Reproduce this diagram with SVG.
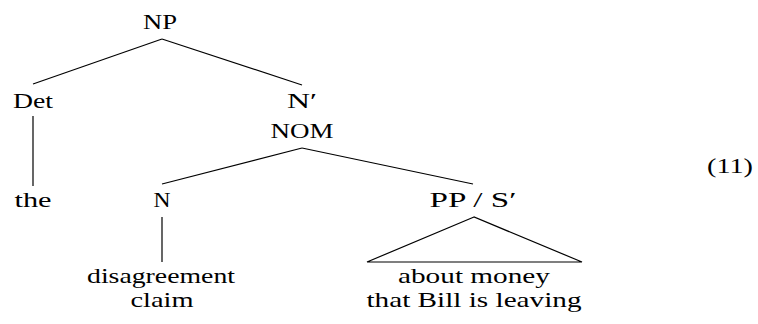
<svg xmlns="http://www.w3.org/2000/svg" width="758" height="324" viewBox="0 0 758 324">
  <style>
    text { font-family: "Liberation Serif", "Times New Roman", serif; font-size: 22px; fill: #000; text-anchor: middle; }
    .edge { stroke: #000; stroke-width: 1.2; fill: none; }
  </style>
  <rect width="758" height="324" fill="#fff"/>
  <!-- tree branches and the triangle over the unanalysed phrase -->
  <g id="connectors">
    <line class="edge" x1="162" y1="39" x2="33" y2="84"/>
    <line class="edge" x1="162" y1="39" x2="302" y2="85"/>
    <line class="edge" x1="33" y1="116" x2="33" y2="186"/>
    <line class="edge" x1="302" y1="148" x2="162" y2="184"/>
    <line class="edge" x1="302" y1="148" x2="473" y2="184"/>
    <line class="edge" x1="162" y1="217" x2="162" y2="262"/>
    <polygon class="edge" points="474,217 367,262 582,262"/>
  </g>
  <g id="np"><text x="160" y="29" textLength="34" lengthAdjust="spacingAndGlyphs">NP</text></g>
  <g id="det"><text x="33" y="108" textLength="40" lengthAdjust="spacingAndGlyphs">Det</text></g>
  <g id="nbar"><text x="302" y="108" textLength="30" lengthAdjust="spacingAndGlyphs">N′</text><text x="302" y="138" textLength="63" lengthAdjust="spacingAndGlyphs">NOM</text></g>
  <g id="the"><text x="33" y="207" textLength="37" lengthAdjust="spacingAndGlyphs">the</text></g>
  <g id="n"><text x="162" y="207" textLength="17" lengthAdjust="spacingAndGlyphs">N</text></g>
  <g id="pp"><text x="473" y="207" textLength="87" lengthAdjust="spacingAndGlyphs">PP / S′</text></g>
  <g id="n-words"><text x="161" y="283" textLength="148" lengthAdjust="spacingAndGlyphs">disagreement</text><text x="162" y="307" textLength="63" lengthAdjust="spacingAndGlyphs">claim</text></g>
  <g id="pp-words"><text x="474" y="283" textLength="152" lengthAdjust="spacingAndGlyphs">about money</text><text x="474" y="307" textLength="215" lengthAdjust="spacingAndGlyphs">that Bill is leaving</text></g>
  <g id="label"><text x="730" y="173" textLength="46" lengthAdjust="spacingAndGlyphs">(11)</text></g>
</svg>
